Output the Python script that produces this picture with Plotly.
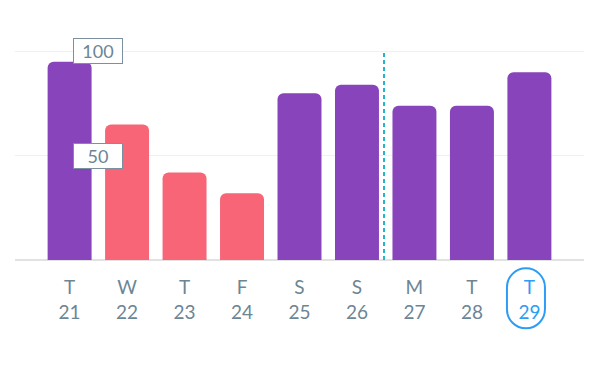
import plotly.graph_objects as go

# ---- data ----
day_letters = ["T", "W", "T", "F", "S", "S", "M", "T", "T"]
day_numbers = [21, 22, 23, 24, 25, 26, 27, 28, 29]
values = [95, 65, 42, 32, 80, 84, 74, 74, 90]
status = ["ok", "low", "low", "low", "ok", "ok", "ok", "ok", "ok"]
y_ticks = [50, 100]
today_index = 8
divider_after = 5

# ---- styles ----
PURPLE = "#8844bb"
RED = "#f76577"
TEXT = "#6c8595"
BLUE = "#2e9cf4"
TEAL = "#22b6c8"
FONT = "Lato, 'Source Sans Pro', 'Open Sans', sans-serif"
color_map = {"ok": PURPLE, "low": RED}

x = list(range(len(values)))
ticktext = []
for i, (d, n) in enumerate(zip(day_letters, day_numbers)):
    if i == today_index:
        ticktext.append(f"<span style='color:{BLUE}'>{d}</span><br><span style='color:{BLUE}'>{n}</span>")
    else:
        ticktext.append(f"{d}<br>{n}")

fig = go.Figure(go.Bar(
    x=x, y=values,
    marker=dict(color=[color_map[s] for s in status], cornerradius=6, line=dict(width=0)),
    hoverinfo="skip",
))

fig.update_layout(
    width=600, height=368,
    margin=dict(l=15, r=16, t=41, b=107.5),
    paper_bgcolor="white", plot_bgcolor="white",
    bargap=0.235,
    showlegend=False,
    font=dict(family=FONT, color=TEXT, size=19),
)
fig.update_xaxes(
    range=[-0.95, 8.95],
    tickmode="array", tickvals=x, ticktext=ticktext,
    showgrid=False, zeroline=False, showline=False, ticks="",
    tickfont=dict(size=19, color=TEXT, family=FONT),
    ticklabelstandoff=14,
    fixedrange=True,
)
fig.update_yaxes(
    range=[0, 105],
    tickmode="array", tickvals=[0] + y_ticks,
    showticklabels=False,
    showgrid=True, gridcolor="#f0f0f0", gridwidth=1,
    zeroline=True, zerolinecolor="#e2e2e2", zerolinewidth=2,
    fixedrange=True,
)

# dashed divider between weeks
fig.add_shape(type="line", xref="x", yref="y",
              x0=divider_after + 0.47, x1=divider_after + 0.47, y0=0, y1=100,
              line=dict(color=TEAL, width=2, dash="4px,3px"))

# value boxes on the gridlines
for v in y_ticks:
    fig.add_annotation(xref="paper", yref="y", x=0.1459, y=v,
                       text=str(v), showarrow=False,
                       font=dict(size=18, color=TEXT, family=FONT),
                       bgcolor="white", bordercolor="#7b91a1", borderwidth=1,
                       borderpad=0, width=48, height=24, valign="middle",
                       xanchor="center", yanchor="middle")

# highlight ring around today's label
r = 19
h = 11
k = 0.5523 * r
path = (f"M {-r},{-h} L {-r},{h} "
        f"C {-r},{h + k} {-k},{h + r} 0,{h + r} "
        f"C {k},{h + r} {r},{h + k} {r},{h} "
        f"L {r},{-h} "
        f"C {r},{-h - k} {k},{-h - r} 0,{-h - r} "
        f"C {-k},{-h - r} {-r},{-h - k} {-r},{-h} Z")
fig.add_shape(type="path", xref="x", yref="paper",
              xsizemode="pixel", ysizemode="pixel",
              xanchor=today_index - 0.06, yanchor=-0.175,
              path=path, line=dict(color=BLUE, width=2), fillcolor="rgba(0,0,0,0)")

fig.write_html("out.html", config={"displayModeBar": False},
               post_script="document.body.style.margin='0';")
